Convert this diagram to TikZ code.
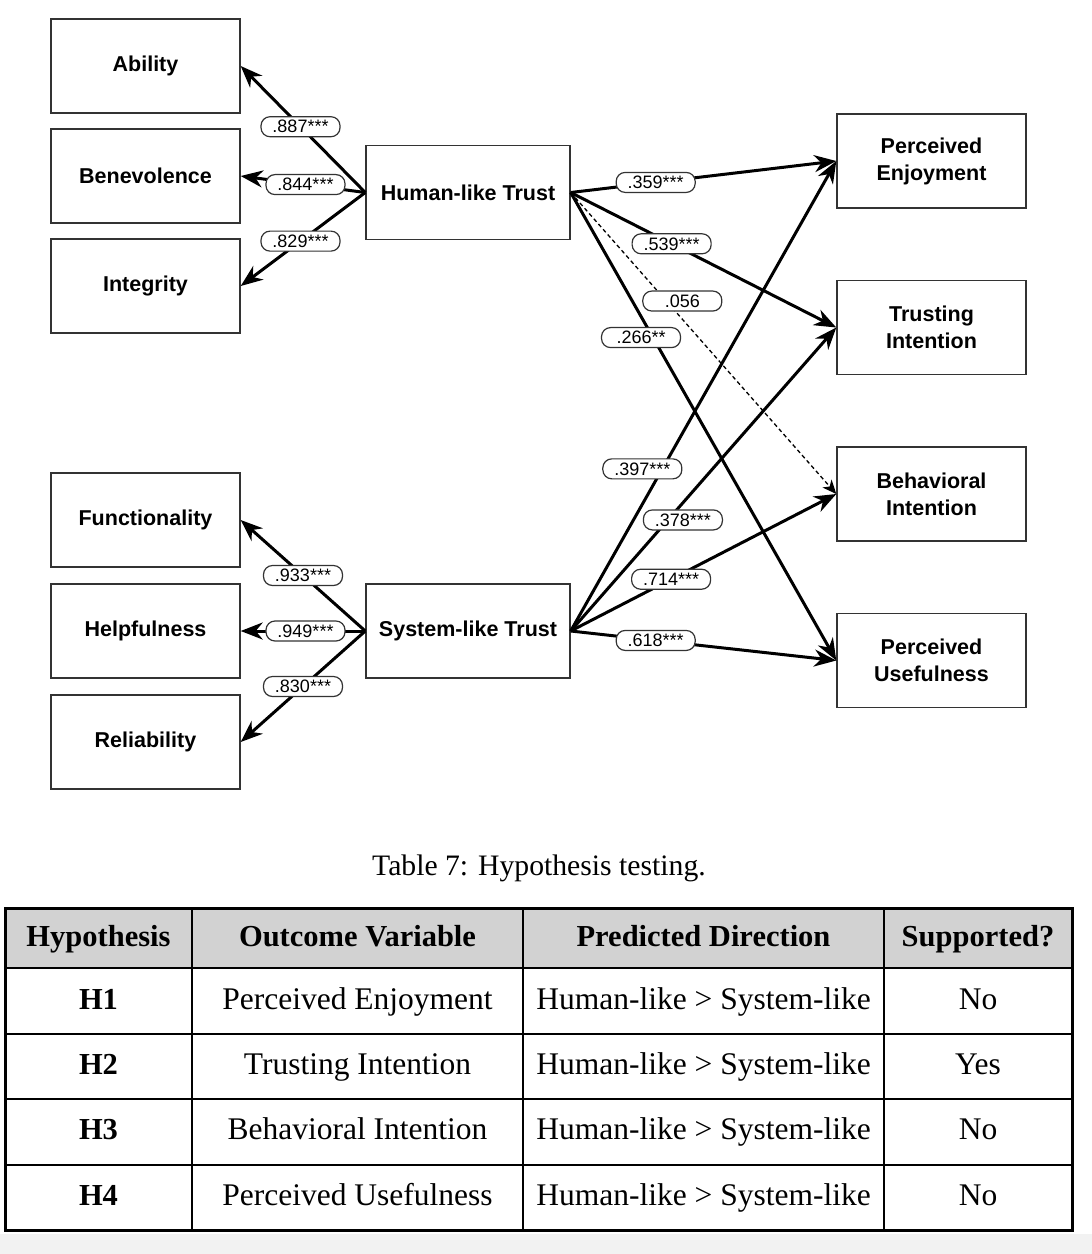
\documentclass[tikz,border=0pt]{standalone}
\usepackage{fontspec}
\setmainfont{Liberation Serif}
\setsansfont{Liberation Sans}
\usetikzlibrary{positioning,arrows.meta}
\tikzstyle{block} = [rectangle, draw=black!80, line width=1.4pt, minimum width=189pt,
    minimum height=94pt, align=center, font=\sffamily\bfseries\fontsize{21.5}{27}\selectfont]
\tikzstyle{factor} = [block, minimum width=204pt]
\tikzstyle{coef} = [rectangle, draw=black!80, fill=white, solid, rounded corners=9pt, line width=1.2pt,
    minimum width=79pt, minimum height=20pt, inner sep=1pt, font=\sffamily\fontsize{18}{18}\selectfont]
\tikzstyle{line} = [draw, line width=3pt, -{Stealth[length=22pt,width=17pt,inset=7pt]}]
\tikzstyle{weak} = [draw, line width=1.3pt, dash pattern=on 4pt off 3pt,
    -{Stealth[length=14pt,width=12pt,inset=4pt]}]
\tikzstyle{cell} = [text height=22pt, text depth=7pt, font=\fontsize{31.5}{31.5}\selectfont]
\tikzstyle{head} = [text height=22pt, text depth=7pt, font=\bfseries\fontsize{30.5}{30.5}\selectfont]
\begin{document}
\begin{tikzpicture}[x=1pt, y=-1pt, node distance=110pt]
    \useasboundingbox (0,0) rectangle (1092,1254);
    \fill [gray!10] (0,1234) rectangle (1092,1254);
    % Place nodes
    \node [block] (ability) at (145.5,66) {Ability};
    \node [block, below of=ability] (benevolence) {Benevolence};
    \node [block, below of=benevolence] (integrity) {Integrity};
    \node [block] (functionality) at (145.5,520) {Functionality};
    \node [block, below of=functionality, node distance=111pt] (helpfulness) {Helpfulness};
    \node [block, below of=helpfulness, node distance=111pt] (reliability) {Reliability};
    \node [factor] (human) at (468,192.5) {Human-like Trust};
    \node [factor, right of=helpfulness, node distance=322.5pt] (system) {System-like Trust};
    \node [block] (enjoy) at (931.5,161) {Perceived\\Enjoyment};
    \node [block, below of=enjoy, node distance=166.5pt] (trusting) {Trusting\\Intention};
    \node [block, below of=trusting, node distance=166.5pt] (behave) {Behavioral\\Intention};
    \node [block, below of=behave, node distance=166.5pt] (useful) {Perceived\\Usefulness};
    % Draw edges
    \path [line] (human.west) -- node [coef, pos=.52] {.887***} (ability.east);
    \path [line] (human.west) -- node [coef, pos=.48] {.844***} (benevolence.east);
    \path [line] (human.west) -- node [coef, pos=.52] {.829***} (integrity.east);
    \path [line] (system.west) -- node [coef, pos=.5] {.933***} (functionality.east);
    \path [line] (system.west) -- node [coef, pos=.48] {.949***} (helpfulness.east);
    \path [line] (system.west) -- node [coef, pos=.5] {.830***} (reliability.east);
    \path [line] (human.east) -- node [coef, pos=.32] {.359***} (enjoy.west);
    \path [line] (human.east) -- node [coef, pos=.38] {.539***} (trusting.west);
    \path [weak] (human.east) -- node [coef, pos=.36, xshift=16pt] {.056} (behave.west);
    \path [line] (human.east) -- node [coef, pos=.31, xshift=-12pt] {.266**} (useful.west);
    \path [line] (system.east) -- node [coef, pos=.345, xshift=-20pt] {.397***} (enjoy.west);
    \path [line] (system.east) -- node [coef, pos=.366, xshift=15pt] {.378***} (trusting.west);
    \path [line] (system.east) -- node [coef, pos=.378] {.714***} (behave.west);
    \path [line] (system.east) -- node [coef, pos=.32] {.618***} (useful.west);
    % Table
    \node [font=\fontsize{29.7}{30}\selectfont] (caption) at (539,868) {Table 7: Hypothesis testing.};
    \fill [gray!35] (5,908) rectangle (1072,968);
    \draw [line width=2.5pt] (5,968) -- (1072,968) (5,1034) -- (1072,1034)
        (5,1099) -- (1072,1099) (5,1165) -- (1072,1165);
    \draw [line width=1.8pt] (192,908) -- (192,1230) (523,908) -- (523,1230) (884,908) -- (884,1230);
    \draw [line width=3pt] (5,908) rectangle (1072,1230);
    \node [head] (hyp) at (98.5,939) {Hypothesis};
    \node [head] (outcome) at (357.5,939) {Outcome Variable};
    \node [head] (direction) at (703.5,939) {Predicted Direction};
    \node [head] (supported) at (978,939) {Supported?};
    \node [head] (h1) at (98.5,1002) {H1};
    \node [cell] (h1out) at (357.5,1002) {Perceived Enjoyment};
    \node [cell] (h1dir) at (703.5,1002) {Human-like > System-like};
    \node [cell] (h1sup) at (978,1002) {No};
    \node [head] (h2) at (98.5,1067) {H2};
    \node [cell] (h2out) at (357.5,1067) {Trusting Intention};
    \node [cell] (h2dir) at (703.5,1067) {Human-like > System-like};
    \node [cell] (h2sup) at (978,1067) {Yes};
    \node [head] (h3) at (98.5,1132) {H3};
    \node [cell] (h3out) at (357.5,1132) {Behavioral Intention};
    \node [cell] (h3dir) at (703.5,1132) {Human-like > System-like};
    \node [cell] (h3sup) at (978,1132) {No};
    \node [head] (h4) at (98.5,1198) {H4};
    \node [cell] (h4out) at (357.5,1198) {Perceived Usefulness};
    \node [cell] (h4dir) at (703.5,1198) {Human-like > System-like};
    \node [cell] (h4sup) at (978,1198) {No};
\end{tikzpicture}
\end{document}
